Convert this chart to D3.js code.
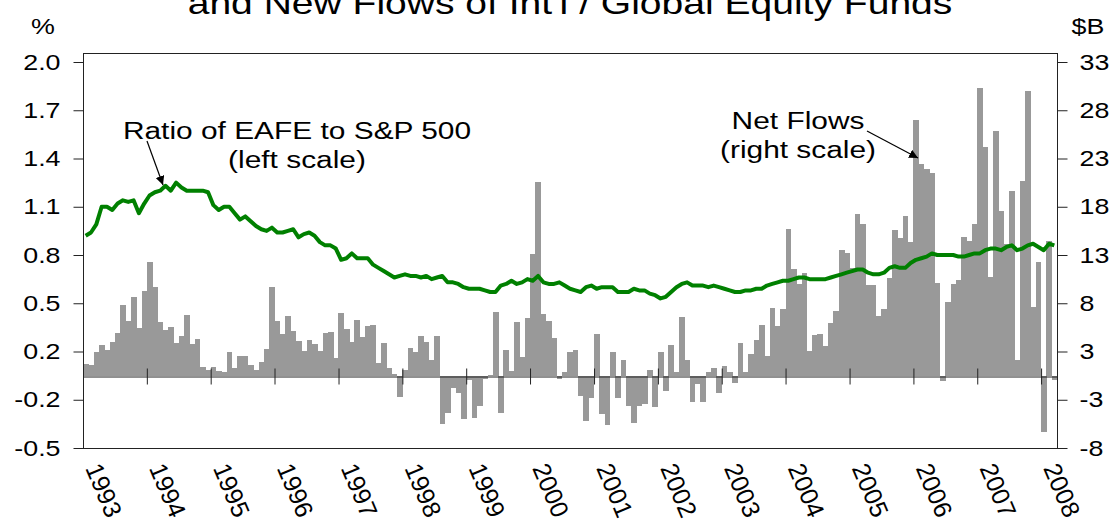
<!DOCTYPE html>
<html>
<head>
<meta charset="utf-8">
<title>EAFE vs S&amp;P 500 and Int'l / Global Equity Fund Flows</title>
<script src="https://d3js.org/d3.v7.min.js"></script>
<style>
  body { margin: 0; background: #fff; }
  text { font-family: Arial, "Liberation Sans", sans-serif; fill: #000; }
</style>
</head>
<body>
<svg id="chart"></svg>
<script>
// monthly data, Jan 1993 .. Mar 2008 (one row per year)
var netFlows = [
  1.4, 1.3, 3.0, 3.7, 3.2, 4.0, 4.9, 7.8, 6.2, 8.6, 5.4, 9.3,
  12.3, 9.7, 6.1, 5.2, 5.5, 3.9, 4.6, 6.8, 3.8, 4.3, 1.1, 0.7,
  1.1, 0.6, 0.4, 2.9, 1.0, 2.4, 2.4, 1.3, 0.7, 1.7, 3.3, 9.7,
  6.2, 4.8, 6.7, 5.1, 4.1, 3.1, 4.2, 3.8, 3.1, 4.9, 5.0, 2.2,
  7.0, 5.3, 4.0, 6.3, 4.5, 5.6, 5.7, 1.6, 3.9, 1.0, 0.2, -2.6,
  0.7, 3.4, 3.0, 4.6, 4.0, 2.0, 4.6, -5.5, -4.4, -1.5, -2.1, -5.0,
  -0.5, -4.9, -3.6, -0.45, 0.1, 7.1, -4.4, 3.2, 0.6, 6.1, 2.3, 6.5,
  13.1, 20.6, 6.9, 6.2, 4.4, -0.4, 0.4, 3.0, 3.2, -2.5, -5.2, -2.8,
  4.8, -4.5, -5.6, 2.9, -2.8, 1.9, -3.6, -5.4, -3.6, -3.4, 0.7, -3.7,
  3.0, -1.9, 3.7, 0.5, 6.6, 1.9, -3.2, -1.1, -3.2, 0.5, 1.0, -2.1,
  1.2, 0.5, -0.9, 3.9, 0.5, 2.7, 4.2, 5.7, 2.5, 7.5, 5.6, 7.4,
  15.7, 11.5, 10.0, 11.1, 3.1, 4.7, 4.8, 3.6, 6.0, 7.2, 13.5, 13.2,
  11.7, 17.3, 16.2, 9.9, 9.9, 6.7, 7.4, 10.6, 15.6, 14.8, 17.0, 14.3,
  27.0, 22.4, 21.9, 21.5, 10.1, -0.7, 8.1, 10.0, 10.4, 14.9, 14.4, 16.2,
  30.3, 24.2, 10.7, 25.8, 17.6, 14.1, 19.6, 1.9, 20.7, 30.0, 7.6, 12.3,
  -6.3, 14.4, -0.5
];

var ratio = [
  0.92, 0.94, 0.99, 1.10, 1.10, 1.08, 1.12, 1.14, 1.13, 1.14, 1.06, 1.12,
  1.17, 1.19, 1.20, 1.23, 1.20, 1.25, 1.22, 1.20, 1.20, 1.20, 1.20, 1.19,
  1.11, 1.08, 1.10, 1.10, 1.06, 1.02, 1.04, 1.01, 0.98, 0.96, 0.95, 0.97,
  0.94, 0.94, 0.95, 0.96, 0.91, 0.93, 0.94, 0.92, 0.88, 0.86, 0.86, 0.84,
  0.77, 0.78, 0.81, 0.78, 0.78, 0.78, 0.74, 0.72, 0.70, 0.68, 0.66, 0.67,
  0.68, 0.67, 0.67, 0.66, 0.67, 0.65, 0.66, 0.67, 0.63, 0.63, 0.62, 0.60,
  0.59, 0.59, 0.59, 0.58, 0.57, 0.57, 0.61, 0.62, 0.64, 0.62, 0.63, 0.65,
  0.64, 0.67, 0.63, 0.62, 0.62, 0.63, 0.61, 0.59, 0.58, 0.57, 0.60, 0.61,
  0.59, 0.60, 0.60, 0.60, 0.57, 0.57, 0.57, 0.59, 0.58, 0.58, 0.56, 0.55,
  0.53, 0.54, 0.57, 0.60, 0.62, 0.63, 0.61, 0.61, 0.61, 0.60, 0.61, 0.60,
  0.59, 0.58, 0.57, 0.57, 0.58, 0.58, 0.59, 0.59, 0.61, 0.62, 0.63, 0.64,
  0.64, 0.65, 0.66, 0.66, 0.65, 0.65, 0.65, 0.65, 0.66, 0.67, 0.68, 0.69,
  0.70, 0.71, 0.71, 0.69, 0.68, 0.68, 0.69, 0.72, 0.73, 0.72, 0.72, 0.75,
  0.77, 0.78, 0.79, 0.81, 0.80, 0.80, 0.80, 0.80, 0.79, 0.79, 0.80, 0.81,
  0.81, 0.83, 0.84, 0.84, 0.83, 0.85, 0.86, 0.83, 0.84, 0.86, 0.87, 0.85,
  0.83, 0.87, 0.86
];

var leftTicks = [2.0, 1.7, 1.4, 1.1, 0.8, 0.5, 0.2, -0.2, -0.5];
var rightTicks = [33, 28, 23, 18, 13, 8, 3, -3, -8];
var years = d3.range(1993, 2009);

var width = 1114, height = 523;
var m = {left: 83, right: 1057, top: 62, bottom: 448, frameTop: 53};
var SX = 1.22;   // the source picture is a bit stretched sideways

var svg = d3.select("#chart").attr("width", width).attr("height", height);

var months = d3.timeMonth.range(new Date(1993, 0, 1), new Date(2008, 3, 1));
var x = d3.scaleBand().domain(months).range([m.left, m.right]).padding(0);
var xTime = d3.scaleTime()
    .domain([new Date(1993, 0, 1), new Date(2008, 3, 1)])
    .range([m.left, m.right]);

// both value axes are evenly spaced on their labels
var step = (m.bottom - m.top) / (leftTicks.length - 1);
var yL = d3.scaleLinear().domain(leftTicks)
    .range(leftTicks.map(function(d, i) { return m.top + i * step; }));
var yR = d3.scaleLinear().domain(rightTicks)
    .range(rightTicks.map(function(d, i) { return m.top + i * step; }));

function label(g, px, py, str, size, anchor) {
  return g.append("text")
    .attr("transform", "translate(" + px + "," + py + ") scale(" + SX + ",1)")
    .attr("text-anchor", anchor || "middle")
    .style("font-size", size + "px")
    .text(str);
}

// title (top line is cut off in the source)
label(svg, 570, 14, "and New Flows of Int'l / Global Equity Funds", 32);
label(svg, 43, 34, "%", 22);
label(svg, 1088, 34, "$B", 22);

// bars
var y0 = yR(0);
svg.append("g").selectAll("rect")
  .data(netFlows)
  .join("rect")
    .attr("x", function(d, i) { return x(months[i]); })
    .attr("width", x.bandwidth() + 0.4)
    .attr("y", function(d) { return Math.min(yR(d), y0); })
    .attr("height", function(d) { return Math.abs(yR(d) - y0); })
    .attr("fill", "#999999")
    .attr("shape-rendering", "crispEdges");

// frame
svg.append("rect")
  .attr("x", m.left + 0.5).attr("y", m.frameTop + 0.5)
  .attr("width", m.right - m.left).attr("height", m.bottom - m.frameTop)
  .attr("fill", "none").attr("stroke", "#222").attr("stroke-width", 1);

// left axis
var gl = svg.append("g").attr("transform", "translate(" + (m.left + 0.5) + ",0)")
  .call(d3.axisLeft(yL).tickValues(leftTicks).tickSize(10).tickSizeOuter(0)
    .tickFormat(function(d) { return d.toFixed(1); }));
gl.select(".domain").remove();
gl.selectAll(".tick line").attr("stroke", "#222");
gl.selectAll("text").style("font-size", "22px")
  .attr("x", -23 / SX).attr("transform", "scale(" + SX + ",1)");

// right axis
var gr = svg.append("g").attr("transform", "translate(" + (m.right + 0.5) + ",0)")
  .call(d3.axisRight(yR).tickValues(rightTicks).tickSize(10).tickSizeOuter(0)
    .tickFormat(function(d) { return String(d); }));
gr.select(".domain").remove();
gr.selectAll(".tick line").attr("stroke", "#222");
gr.selectAll("text").style("font-size", "22px")
  .attr("x", 22 / SX).attr("transform", "scale(" + SX + ",1)");

// zero line with year ticks
var gx = svg.append("g").attr("transform", "translate(0," + (Math.round(y0) + 0.5) + ")")
  .call(d3.axisBottom(xTime).ticks(d3.timeYear.every(1)).tickSize(8).tickSizeOuter(0)
    .tickFormat(""));
gx.selectAll(".tick line").attr("y1", -8).attr("stroke", "#222");
gx.select(".domain").attr("stroke", "#222");

// year labels, slanted steeply down to the right
svg.append("g").selectAll("text")
  .data(years)
  .join("text")
    .attr("transform", function(d) {
      return "translate(" + (xTime(new Date(d, 0, 1)) + 2) + ",468) rotate(67)";
    })
    .style("font-size", "25px")
    .text(function(d) { return d; });

// ratio line
var line = d3.line()
  .x(function(d, i) { return x(months[i]) + x.bandwidth() / 2; })
  .y(function(d) { return yL(d); });

svg.append("path")
  .datum(ratio)
  .attr("d", line)
  .attr("fill", "none")
  .attr("stroke", "#008000")
  .attr("stroke-width", 4)
  .attr("stroke-linejoin", "round");

// annotations
svg.append("defs").append("marker")
  .attr("id", "arrow")
  .attr("viewBox", "0 0 10 10")
  .attr("refX", 10).attr("refY", 5)
  .attr("markerWidth", 9).attr("markerHeight", 9)
  .attr("markerUnits", "userSpaceOnUse")
  .attr("orient", "auto")
  .append("path").attr("d", "M0,0L10,5L0,10z").attr("fill", "#000");

var notes = svg.append("g");
label(notes, 297, 139, "Ratio of EAFE to S&P 500", 24.5);
label(notes, 297, 168, "(left scale)", 24.5);
label(notes, 798, 129, "Net Flows", 24.5);
label(notes, 798, 158, "(right scale)", 24.5);

notes.append("line")
  .attr("x1", 147).attr("y1", 141).attr("x2", 163).attr("y2", 185)
  .attr("stroke", "#000").attr("stroke-width", 1.2).attr("marker-end", "url(#arrow)");
notes.append("line")
  .attr("x1", 867).attr("y1", 131).attr("x2", 918).attr("y2", 158)
  .attr("stroke", "#000").attr("stroke-width", 1.2).attr("marker-end", "url(#arrow)");
</script>
</body>
</html>
